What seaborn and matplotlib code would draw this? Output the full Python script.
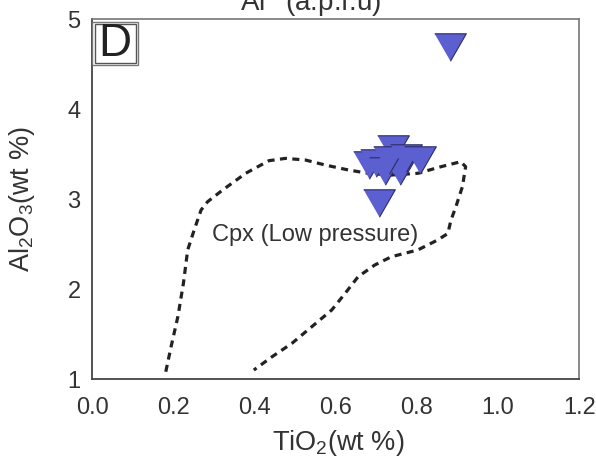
import matplotlib
matplotlib.use("Agg")
import matplotlib.pyplot as plt
import seaborn as sns
import pandas as pd
from matplotlib.patches import Rectangle

# ---- data ----
tio2 = [0.882, 0.740, 0.683, 0.700, 0.721, 0.758, 0.730, 0.772, 0.807, 0.706]
al2o3 = [4.69, 3.56, 3.38, 3.40, 3.32, 3.32, 3.44, 3.46, 3.44, 2.956]

field_x = [0.181, 0.194, 0.211, 0.2245, 0.235, 0.251, 0.268, 0.284, 0.321, 0.378,
           0.435, 0.476, 0.525, 0.574, 0.631, 0.680, 0.737, 0.802, 0.859, 0.908,
           0.920, 0.912, 0.896, 0.884, 0.876, 0.851, 0.802, 0.737, 0.696, 0.655,
           0.623, 0.590, 0.541, 0.492, 0.443, 0.398]
field_y = [1.084, 1.36, 1.70, 2.067, 2.437, 2.659, 2.881, 2.973, 3.103, 3.289,
           3.429, 3.455, 3.437, 3.381, 3.326, 3.289, 3.27, 3.289, 3.362, 3.418,
           3.362, 3.14, 2.918, 2.77, 2.62, 2.548, 2.437, 2.362, 2.27, 2.14,
           1.955, 1.77, 1.585, 1.40, 1.251, 1.103]

x_ticks = [0.0, 0.2, 0.4, 0.6, 0.8, 1.0, 1.2]
x_ticklabels = ["0.0", "0.2", "0.4", "0.6", "0.8", "1.0", "1.2"]
y_ticks = [1, 2, 3, 4, 5]
y_ticklabels = ["1", "2", "3", "4", "5"]

field_label = "Cpx (Low pressure)"
panel_label = "D"

# ---- style ----
sns.set_style("white")
plt.rcParams["font.family"] = ["Liberation Sans", "DejaVu Sans"]
plt.rcParams["mathtext.fontset"] = "custom"
plt.rcParams["mathtext.rm"] = "Liberation Sans"
plt.rcParams["mathtext.it"] = "Liberation Sans:italic"

fig = plt.figure(figsize=(5.96, 4.57), dpi=100)
ax = fig.add_axes([0.1549, 0.170, 0.8170, 0.7877])

pts = pd.DataFrame({"TiO2": tio2, "Al2O3": al2o3})
field = pd.DataFrame({"x": field_x, "y": field_y})

sns.lineplot(data=field, x="x", y="y", sort=False, estimator=None, ax=ax,
             color="#222222", linewidth=2.3, linestyle=(0, (2.2, 1.7)), zorder=2)

tri_down = [(-1, 0.866), (1, 0.866), (0, -0.866)]
sns.scatterplot(data=pts, x="TiO2", y="Al2O3", ax=ax, marker=tri_down, s=520,
                color="#5b5fcf", edgecolor="#2c2c66", linewidth=0.8, zorder=3)

ax.set_xlim(0, 1.2)
ax.set_ylim(1, 5)
ax.set_xticks(x_ticks)
ax.set_xticklabels(x_ticklabels)
ax.set_yticks(y_ticks)
ax.set_yticklabels(y_ticklabels)
ax.tick_params(axis="x", direction="out", length=9, width=1.3, color="#333333",
               labelsize=17, pad=4, labelcolor="#333333")
ax.tick_params(axis="y", direction="out", length=5.5, width=1.3, color="#333333",
               labelsize=17, pad=3, labelcolor="#333333")

for side in ["left", "bottom"]:
    ax.spines[side].set_color("#444444")
    ax.spines[side].set_linewidth(1.3)
for side in ["top", "right"]:
    ax.spines[side].set_color("#777777")
    ax.spines[side].set_linewidth(1.2)

ax.set_xlabel("TiO$_2$(wt %)", fontsize=19.5, color="#333333")
ax.set_ylabel("Al$_2$O$_3$(wt %)", fontsize=19.5, color="#333333")
ax.xaxis.set_label_coords(0.505, -0.135)
ax.yaxis.set_label_coords(-0.113, 0.5)

ax.text(0.55, 2.60, field_label, fontsize=17, color="#333333",
        ha="center", va="center")

# panel label with double frame
ax.add_patch(Rectangle((0.0, 0.872), 0.094, 0.121, transform=ax.transAxes,
                       fill=False, edgecolor="#777777", linewidth=1.0, zorder=4))
ax.add_patch(Rectangle((0.005, 0.879), 0.084, 0.107, transform=ax.transAxes,
                       fill=False, edgecolor="#555555", linewidth=1.0, zorder=4))
ax.text(0.047, 0.931, panel_label, transform=ax.transAxes, fontsize=33,
        color="#222222", ha="center", va="center", zorder=5)

fig.text(0.522, 0.976, "Al$^{T}$ (a.p.f.u)", fontsize=20, color="#333333",
         ha="center", va="baseline")

fig.savefig("out.png", dpi=100)
